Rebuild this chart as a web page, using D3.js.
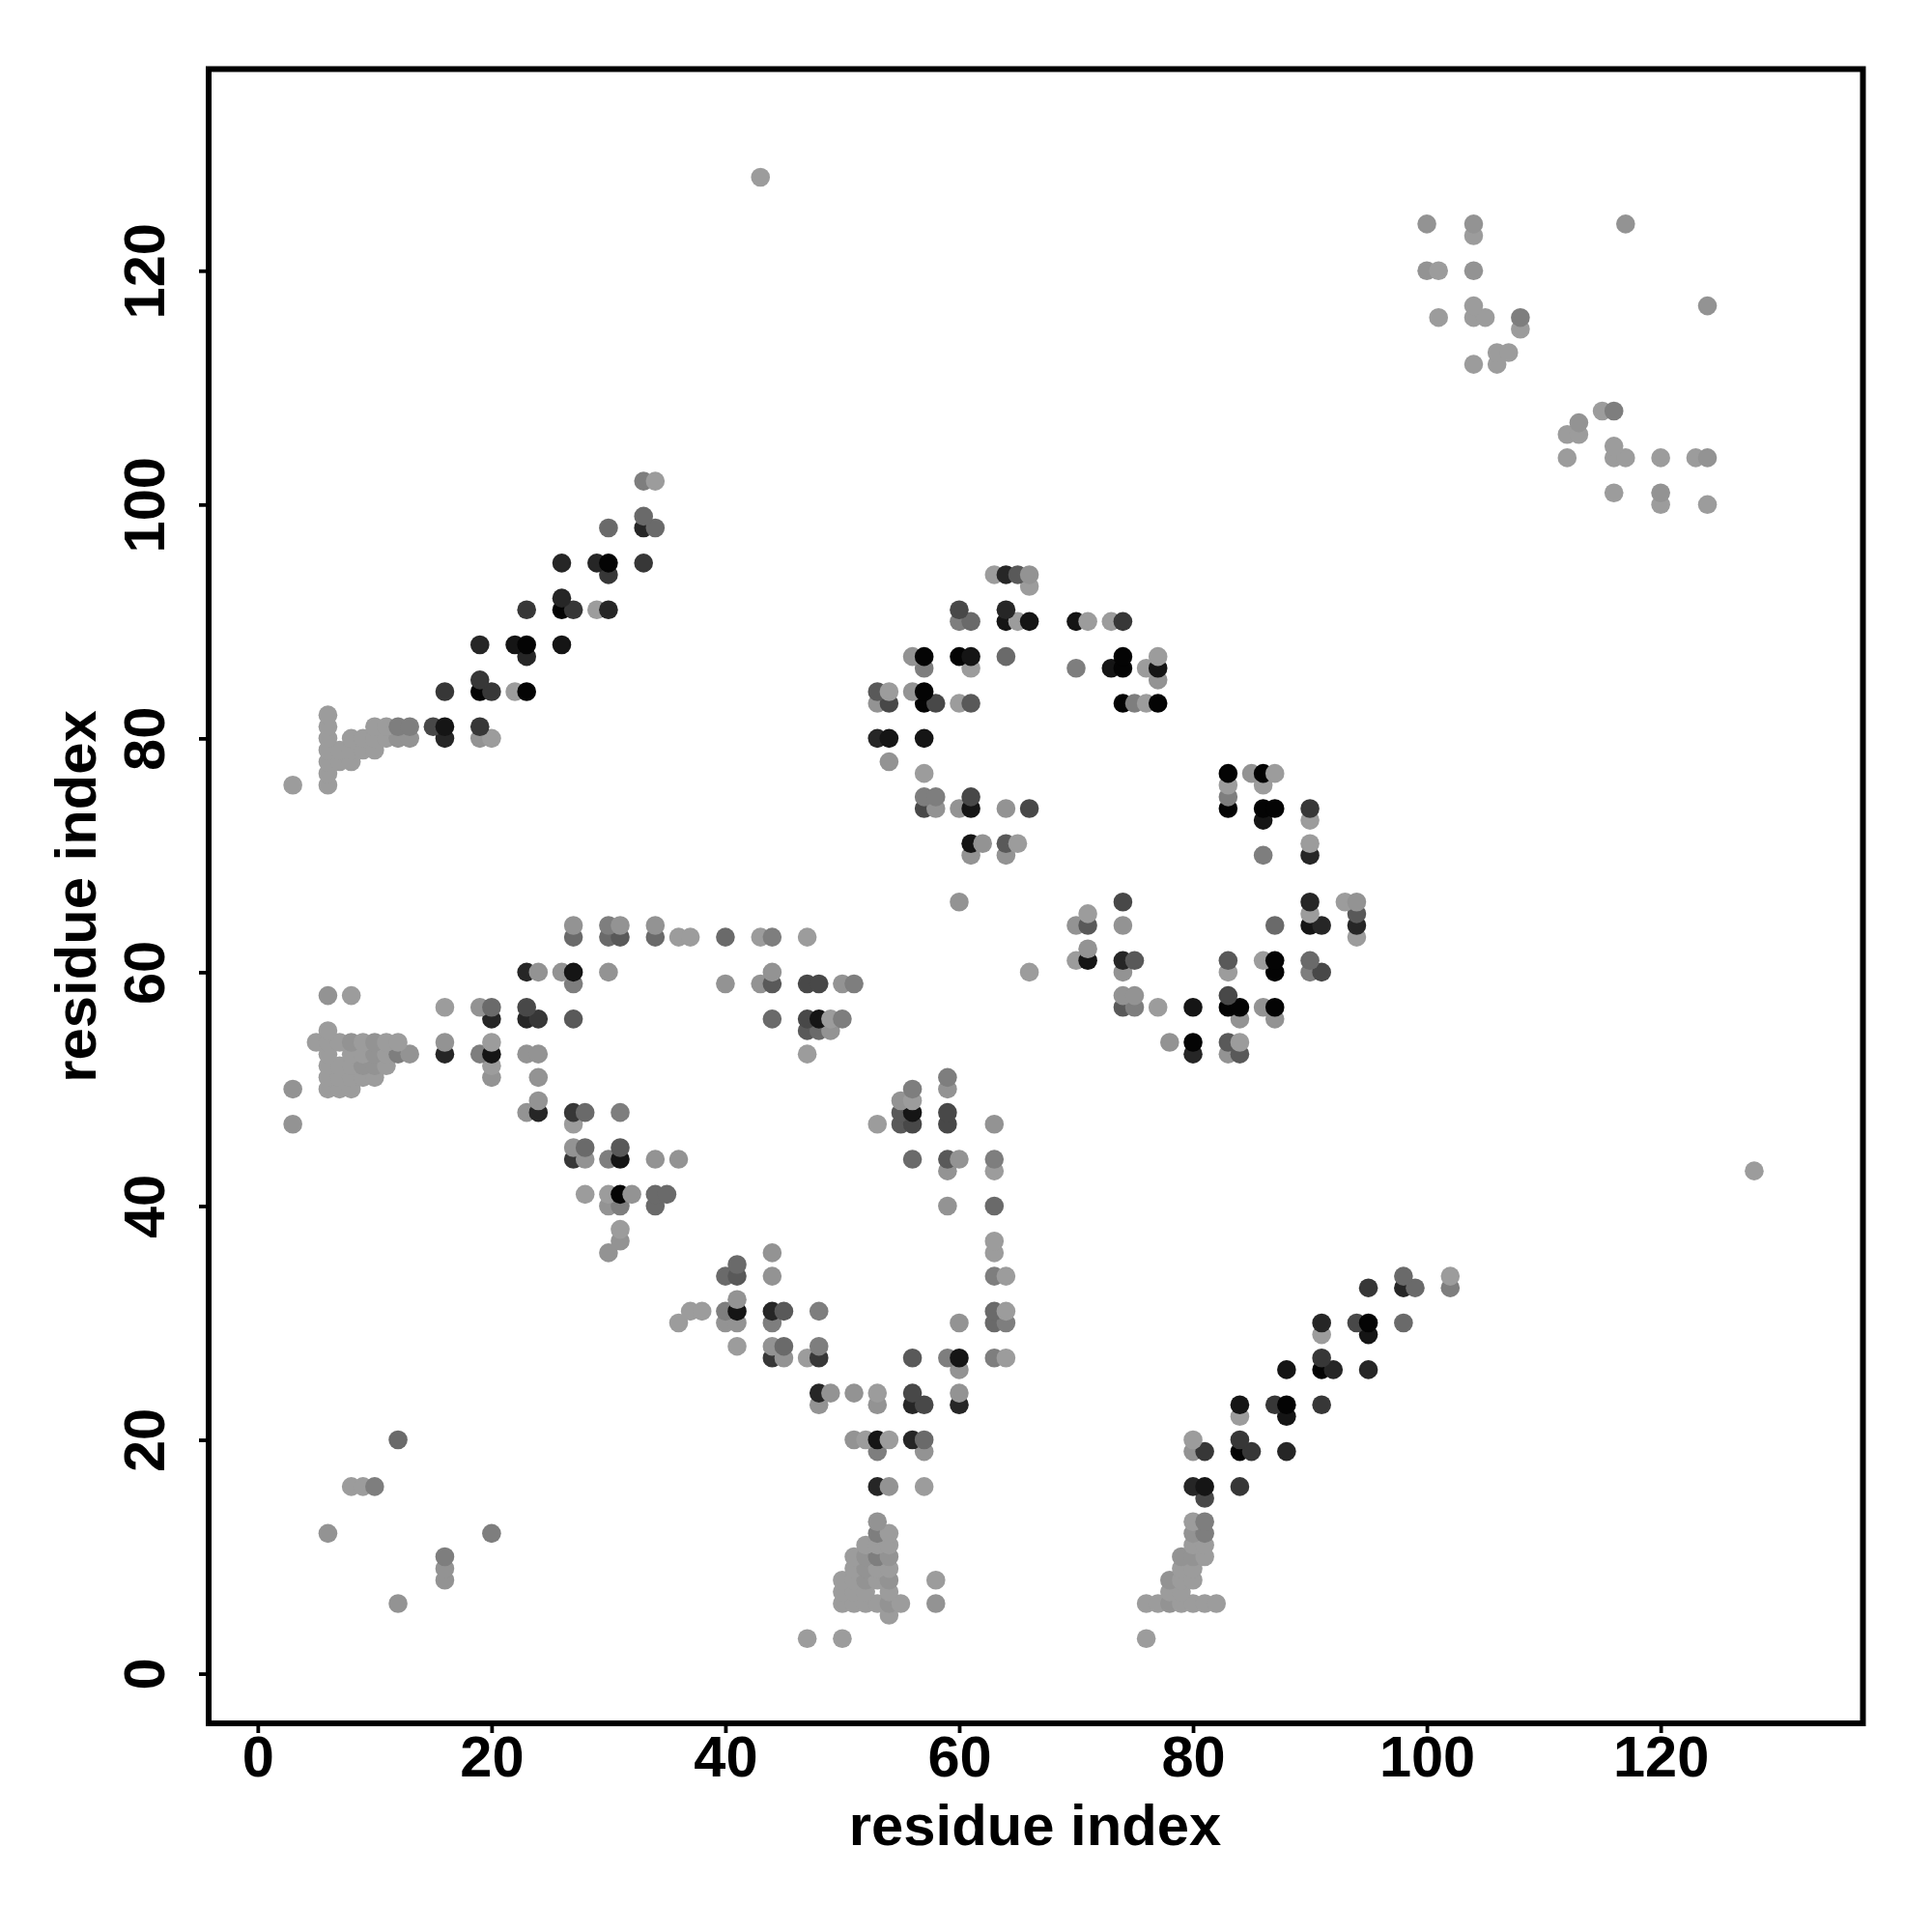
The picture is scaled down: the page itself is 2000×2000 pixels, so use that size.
<!DOCTYPE html>
<html><head><meta charset="utf-8">
<script src="https://cdn.jsdelivr.net/npm/d3@7"></script>
<style>html,body{margin:0;padding:0;background:#fff}svg{display:block}</style>
</head><body><svg id="c" width="2000" height="2000"></svg>
<script>
const rowY=[3,5,6,7,8,9,10,11,12,13,15,16,19,20,22,23,24,26,27,28,29,30,31,32,33,34,35,36,37,38,40,41,43,44,45,47,48,49,50,51,52,53,54,55,56,57,58,59,60,61,62,63,64,65,66,70,71,73,74,75,76,77,78,79,80,81,82,83,84,85,86,87,88,90,91,92,93,94,95,98,99,100,101,102,104,105,106,107,108,112,113,115,116,117,120,123,124,128];
const rowX=[
[47,50,76],[54],[12,50,51,52,53,54,55,58,76,77,78,79,80,81,82],[50,51,52,54,78,79],[16,50,51,52,53,54,58,78,79,80],
[16,51,52,53,54,79,80],[16,51,52,53,54,79,80,81],[52,53,54,80,81],[6,20,53,54,80,81],[53,80,81],[81],
[8,9,10,53,54,57,80,81,84],[53,57,80,81,84,85,88],[12,51,52,53,54,56,57,80,84],[84,88],[48,53,56,57,60,84,87,88,91],
[48,49,51,53,56,60],[60,88,91,92,95],[44,45,47,48,56,59,60,63,64,91],[41,44,45,48],[91,95],
[36,40,41,44,60,63,64,91,94,95,98],[37,38,40,41,44,45,48,63,64],[41],[95,98,99,102],[40,41,44,63,64,98,102],[41],
[30,44,63],[31,63],[31],[30,31,34,59,63],[28,30,31,32,34,35],[59,63,128],[27,28,30,31,34,36,56,59,60,63],[27,28,31],
[3,27,53,55,56,59,63],[23,24,27,28,31,55,56,59],[24,55,56],[3,6,7,8,56,59],[6,7,8,9,10,20,24,59],[6,7,8,9,10,11,20],
[6,8,9,10,11,12,13,16,19,20,23,24,47,80,83,84],[5,6,7,8,9,10,11,12,16,20,78,80,83,84],[6,47,48,49],
[20,23,24,27,44,47,48,49,50,84,87],[16,19,20,23,74,75,77,80,83,84,86,87],[6,8,74,75,83],[27,40,43,44,47,48,50,51],
[23,24,26,27,30,44,66,74,83,87,90,91],[70,71,74,75,83,86,87,90],[71],[27,30,31,34,36,37,40,43,44,47,94],
[27,30,31,34,70,71,74,87,90,91,94],[71,90,94],[60,74,90,93,94],[61,64,86,90],[61,62,64,65,90],[86,90],
[57,58,60,61,64,66,83,86,87,90],[57,58,61,83],[3,6,83,86],[6,57,83,85,86,87],[6,7,8,54],[6,7,8,9,10],
[6,8,9,10,11,12,13,16,19,20,53,54,57],[6,10,11,12,13,15,16,19],[6],[53,54,57,58,60,61,74,75,76,77],
[16,19,20,22,23,53,54,56,57],[19,77],[57,61,70,73,74,76,77],[23,56,57,60,61,64,74,77],[19,22,23,26],
[60,61,64,65,66,70,71,73,74],[23,26,27,29,30,60,64],[26],[66],[30,63,64,65,66],[26,29,30,33],[30,33,34],[33],
[120,124],[116,120],[33,34],[112,116,117,120,123,124],[116],[112,113],[113],[115,116],[104,106],[106,107],[108],
[101,104,105,108],[104,124],[100,101,104],[104],[100,104,117],[43]];
const rowShade=[
[9,9,9],[9],[8,9,9,9,9,8,9,8,9,9,8,9,9,9,9],[9,9,9,9,9,9],[8,9,9,8,9,8,9,8,9,9],
[8,9,8,9,9,9,9],[7,9,8,7,8,8,8,9],[9,9,9,9,9],[8,7,7,9,8,7],[8,9,7],[4],
[9,9,7,2,8,9,2,1,3],[7,8,8,3,0,3,2],[6,8,9,1,9,2,6,9,3],[9,1],[8,8,2,4,2,1,3,0,3],
[2,8,8,9,4,8],[8,1,0,2,2],[3,8,9,3,5,7,1,7,9,3],[9,8,6,7],[9,1],
[9,8,8,7,8,6,7,2,4,0,6],[9,9,7,1,2,5,7,6,9],[8],[3,2,6,7],[6,5,8,7,9,6,9],[6],
[8,8,9],[8,9],[9],[8,7,6,8,6],[9,9,0,8,6,6],[8,9,9],[3,8,7,1,8,8,6,5,8,7],[8,6,5],
[8,9,9,5,4,4,8],[8,2,3,6,7,5,1,4],[8,8,9],[8,9,9,9,7,8],[9,9,9,9,9,8,8,7],[9,9,9,8,8,9,9],
[9,9,9,8,9,7,8,2,7,1,8,8,9,2,8,5],[9,9,9,8,9,8,9,9,8,9,8,0,5,9],[9,5,6,8],
[2,2,3,5,6,4,1,9,7,8,8],[9,8,6,4,5,7,9,1,0,0,8,0],[8,9,8,8,4],[7,8,8,5,4,4,8,7],
[2,8,8,1,8,8,9,8,9,0,7,4],[9,1,2,5,5,9,0,6],[8],[6,6,5,6,9,9,6,9,7,9,9],
[8,7,8,8,8,5,8,6,1,2,2],[9,9,5],[8,4,2,9,8],[8,8,7,2],[1,8,5,9,9],[1,9],
[4,8,8,1,8,4,0,0,0,3],[7,7,4,7],[9,9,9,9],[9,9,0,8,0,9],[9,9,9,8],[9,9,9,9,9],
[9,9,9,9,9,8,8,2,8,9,2,1,1],[9,9,9,7,7,4,1,3],[9],[8,4,0,4,9,5,0,7,9,0],
[3,0,3,9,0,5,9,8,0],[3,8],[7,9,7,1,0,9,1],[2,8,0,0,1,6,0,9],[2,1,0,1],
[7,6,1,9,1,1,9,9,3],[3,0,3,9,2,4,2],[2],[9],[3,9,2,5,8],[2,2,0,3],[6,2,6],[6],
[9,9],[9,8],[7,9],[9,9,9,9,9,8],[9],[9,9],[8],[9,7],[9,9],[9,9],[9],
[9,9,9,7],[9,8],[8,9,8],[9],[8,8,8],[9]];
const xTicks=[0,20,40,60,80,100,120];
const yTicks=[0,20,40,60,80,100,120];
const axisTitle="residue index";

const L=216,R=1928.5,B=1784,T=71.5;
const x=d3.scaleLinear().domain([-4.2,137.3]).range([L,R]);
const y=d3.scaleLinear().domain([-4.25,137.25]).range([B,T]);
const shade=d3.scaleLinear().domain([0,6,7,8,9]).range(["#040404","#6a6a6a","#7e7e7e","#939393","#9c9c9c"]);
const svg=d3.select("#c");
const font='"Liberation Sans",Arial,sans-serif';

rowY.forEach((ry,i)=>{
  svg.append("g").selectAll("circle").data(rowX[i]).join("circle")
    .attr("cx",d=>x(d)).attr("cy",y(ry)).attr("r",9.8)
    .attr("fill",(d,k)=>shade(rowShade[i][k]));
});

svg.append("rect").attr("x",L).attr("y",T).attr("width",R-L).attr("height",B-T)
  .attr("fill","none").attr("stroke","#000").attr("stroke-width",6);

const gx=svg.append("g").attr("transform",`translate(0,${B})`)
  .call(d3.axisBottom(x).tickValues(xTicks).tickSize(10).tickPadding(0).tickFormat(d3.format("d")));
const gy=svg.append("g").attr("transform",`translate(${L},0)`)
  .call(d3.axisLeft(y).tickValues(yTicks).tickSize(10).tickFormat(d3.format("d")));
[gx,gy].forEach(g=>{
  g.select(".domain").remove();
  g.selectAll(".tick line").attr("stroke","#000").attr("stroke-width",3.8);
  g.selectAll("text").attr("font-family",font).attr("font-weight",700).attr("font-size",59.5).attr("fill","#000");
});
gx.selectAll("text").attr("dy",null).attr("y",55);
gy.selectAll("text").attr("dy",null).attr("x",null).attr("y",null).attr("text-anchor","middle")
  .attr("transform","translate(-46,0) rotate(-90)");

svg.append("text").attr("x",1071.5).attr("y",1910).attr("text-anchor","middle")
  .attr("font-family",font).attr("font-weight",700).attr("font-size",59.8).text(axisTitle);
svg.append("text").attr("transform","translate(99,928) rotate(-90)").attr("text-anchor","middle")
  .attr("font-family",font).attr("font-weight",700).attr("font-size",59.8).text(axisTitle);
</script></body></html>
